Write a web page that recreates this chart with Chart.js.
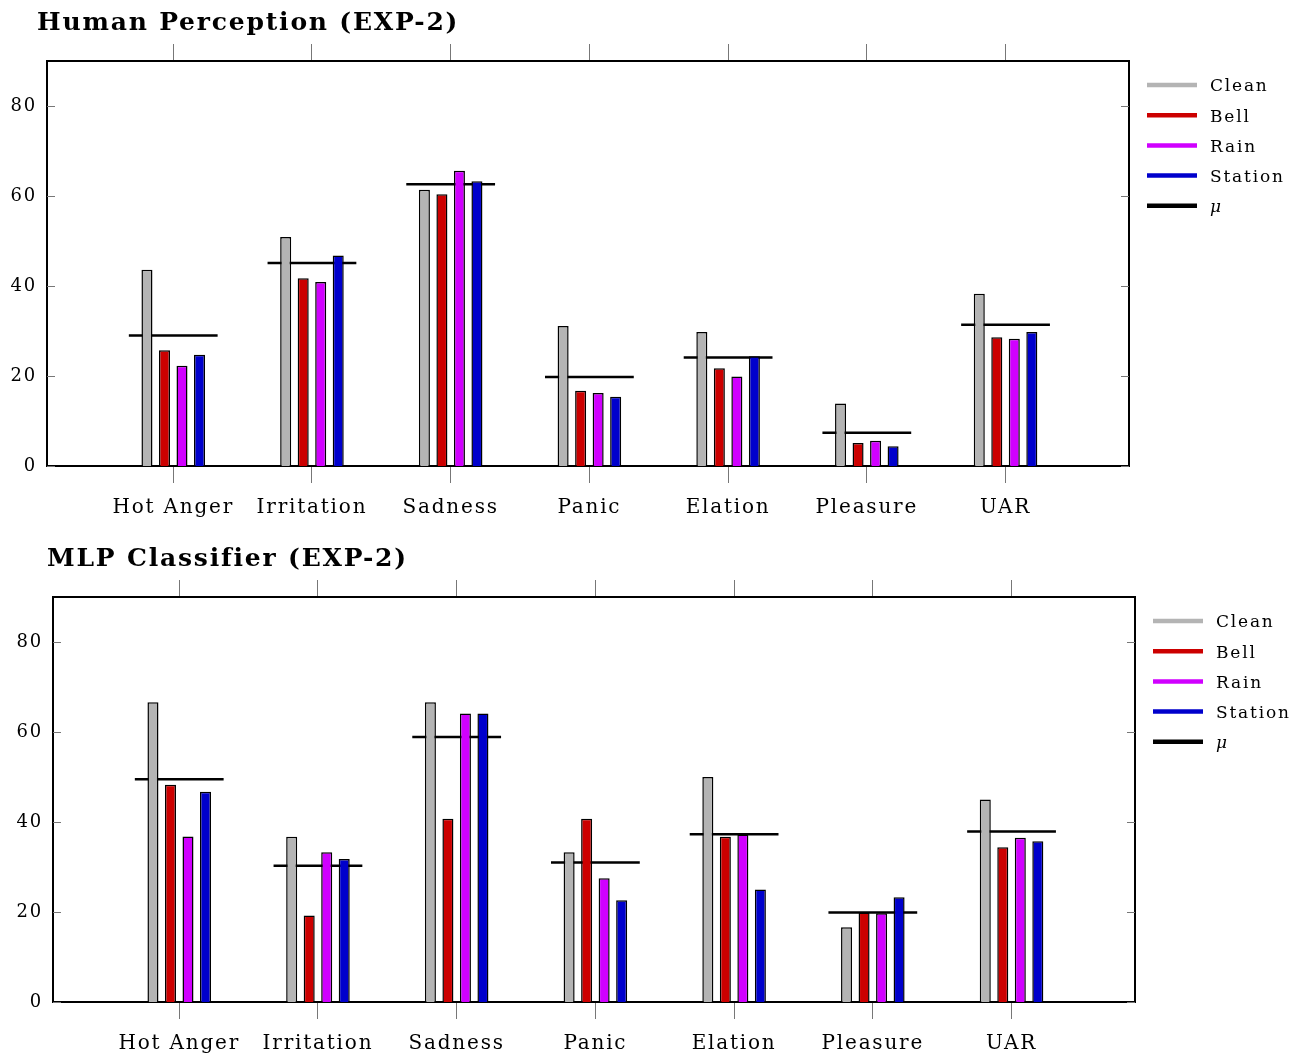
<!DOCTYPE html>
<html>
<head>
    <title>EXP-2 Emotion Recognition</title>
    <style>
        body {
            margin: 0;
            padding: 0;
            background: #fff;
        }

        .plot {
            position: absolute;
        }

        #humanChart {
            left: 0;
            top: 0;
        }

        #mlpChart {
            left: 6px;
            top: 536px;
        }
    </style>
</head>
<body>
    <canvas id="humanChart" class="plot" width="1297" height="517"></canvas>
    <canvas id="mlpChart" class="plot" width="1297" height="517"></canvas>

    <script src="https://cdn.jsdelivr.net/npm/chart.js"></script>
    <script>
        var categories = ['Hot Anger', 'Irritation', 'Sadness', 'Panic', 'Elation', 'Pleasure', 'UAR'];
        var yTicks = [0, 20, 40, 60, 80];
        var seriesNames = ['Clean', 'Bell', 'Rain', 'Station'];
        var seriesColors = ['#b4b4b4', '#cc0000', '#d000ff', '#0000cc'];

        // Human Perception (EXP-2)
        var humanClean   = [43.6, 50.9, 61.4, 31.1, 29.8, 13.9, 38.3];
        var humanBell    = [25.7, 41.7, 60.4, 16.7, 21.7, 5.1, 28.6];
        var humanRain    = [22.3, 40.9, 65.6, 16.2, 19.9, 5.6, 28.3];
        var humanStation = [24.7, 46.8, 63.3, 15.4, 24.4, 4.4, 29.8];
        var humanMean    = [29.0, 45.1, 62.6, 19.8, 24.1, 7.4, 31.4];

        // MLP Classifier (EXP-2)
        var mlpClean   = [66.6, 36.7, 66.6, 33.3, 50.0, 16.6, 45.0];
        var mlpBell    = [48.3, 19.2, 40.7, 40.7, 36.7, 19.9, 34.4];
        var mlpRain    = [36.8, 33.3, 64.1, 27.5, 37.2, 19.7, 36.5];
        var mlpStation = [46.7, 31.8, 64.1, 22.6, 25.0, 23.3, 35.7];
        var mlpMean    = [49.5, 30.3, 58.9, 31.0, 37.3, 19.9, 37.9];

        var serif = '"DejaVu Serif", "Liberation Serif", serif';

        function categoryTicks(scale) {
            scale.ticks = categories.map(function(c, i) {
                return { value: i };
            });
        }

        function buildChart(canvasId, title, titleX, series, mean) {
            var datasets = series.map(function(values, s) {
                return {
                    type: 'bar',
                    label: seriesNames[s],
                    data: values.map(function(v, i) {
                        return { x: i, y: v };
                    }),
                    backgroundColor: seriesColors[s],
                    borderColor: '#000',
                    borderWidth: 1.5,
                    categoryPercentage: 0.505,
                    barPercentage: 0.63
                };
            });

            var meanPoints = [];
            mean.forEach(function(m, i) {
                meanPoints.push({ x: i - 0.32, y: m });
                meanPoints.push({ x: i + 0.32, y: m });
                meanPoints.push({ x: i + 0.5, y: null });
            });
            datasets.push({
                type: 'line',
                label: 'μ',
                data: meanPoints,
                borderColor: '#000',
                borderWidth: 2.5,
                pointRadius: 0,
                spanGaps: false,
                fill: false
            });

            var framePlugin = {
                id: 'frame',
                beforeDraw: function(chart) {
                    chart.ctx.letterSpacing = '1.8px';
                },
                afterDraw: function(chart) {
                    var ctx = chart.ctx;
                    var area = chart.chartArea;
                    var y = chart.scales.y;

                    // inward y ticks on both sides
                    ctx.save();
                    ctx.strokeStyle = '#777';
                    ctx.lineWidth = 1;
                    yTicks.forEach(function(v) {
                        var py = Math.round(y.getPixelForValue(v)) + 0.5;
                        ctx.beginPath();
                        ctx.moveTo(area.left, py);
                        ctx.lineTo(area.left + 8, py);
                        ctx.moveTo(area.right - 8, py);
                        ctx.lineTo(area.right, py);
                        ctx.stroke();
                    });

                    // title
                    ctx.fillStyle = '#000';
                    ctx.font = 'bold 25px ' + serif;
                    ctx.textAlign = 'left';
                    ctx.textBaseline = 'middle';
                    ctx.fillText(title, titleX, 23);

                    // legend
                    chart.data.datasets.forEach(function(ds, i) {
                        var ly = area.top + 24 + i * 30.2;
                        ctx.strokeStyle = ds.type === 'bar' ? ds.backgroundColor : ds.borderColor;
                        ctx.lineWidth = 4.5;
                        ctx.beginPath();
                        ctx.moveTo(area.right + 18, ly);
                        ctx.lineTo(area.right + 68, ly);
                        ctx.stroke();
                        ctx.fillStyle = '#000';
                        ctx.font = (ds.type === 'line' ? 'italic ' : '') + '17px ' + serif;
                        ctx.fillText(ds.label, area.right + 81, ly + 2);
                    });
                    ctx.restore();
                }
            };

            return new Chart(document.getElementById(canvasId), {
                data: { datasets: datasets },
                plugins: [framePlugin],
                options: {
                    responsive: false,
                    animation: false,
                    layout: { padding: 0 },
                    plugins: {
                        legend: { display: false },
                        tooltip: { enabled: false },
                        title: { display: false }
                    },
                    scales: {
                        x: {
                            type: 'linear',
                            position: 'bottom',
                            min: -0.91,
                            max: 6.89,
                            offset: false,
                            afterBuildTicks: categoryTicks,
                            afterFit: function(scale) { scale.height = 51; },
                            ticks: {
                                autoSkip: false,
                                maxRotation: 0,
                                padding: 13,
                                color: '#000',
                                font: { family: serif, size: 20 },
                                callback: function(value) { return categories[value]; }
                            },
                            grid: {
                                drawOnChartArea: false,
                                tickLength: 17,
                                color: '#777',
                                lineWidth: 1,
                                offset: false
                            },
                            border: { display: true, color: '#000', width: 2 }
                        },
                        x2: {
                            type: 'linear',
                            position: 'top',
                            min: -0.91,
                            max: 6.89,
                            offset: false,
                            afterBuildTicks: categoryTicks,
                            afterFit: function(scale) { scale.height = 61; },
                            ticks: { display: false },
                            grid: {
                                drawOnChartArea: false,
                                tickLength: 17,
                                color: '#777',
                                lineWidth: 1,
                                offset: false
                            },
                            border: { display: true, color: '#000', width: 2 }
                        },
                        y: {
                            type: 'linear',
                            position: 'left',
                            min: 0,
                            max: 90,
                            afterBuildTicks: function(scale) {
                                scale.ticks = yTicks.map(function(v) { return { value: v }; });
                            },
                            afterFit: function(scale) { scale.width = 47; },
                            ticks: {
                                padding: 10,
                                color: '#000',
                                font: { family: serif, size: 18 }
                            },
                            grid: { display: false, drawTicks: false },
                            border: { display: true, color: '#000', width: 2 }
                        },
                        y2: {
                            type: 'linear',
                            position: 'right',
                            min: 0,
                            max: 90,
                            afterFit: function(scale) { scale.width = 168; },
                            ticks: { display: false },
                            grid: { display: false, drawTicks: false },
                            border: { display: true, color: '#000', width: 2 }
                        }
                    }
                }
            });
        }

        buildChart('humanChart', 'Human Perception (EXP-2)', 37,
            [humanClean, humanBell, humanRain, humanStation], humanMean);
        buildChart('mlpChart', 'MLP Classifier (EXP-2)', 41,
            [mlpClean, mlpBell, mlpRain, mlpStation], mlpMean);
    </script>
</body>
</html>
